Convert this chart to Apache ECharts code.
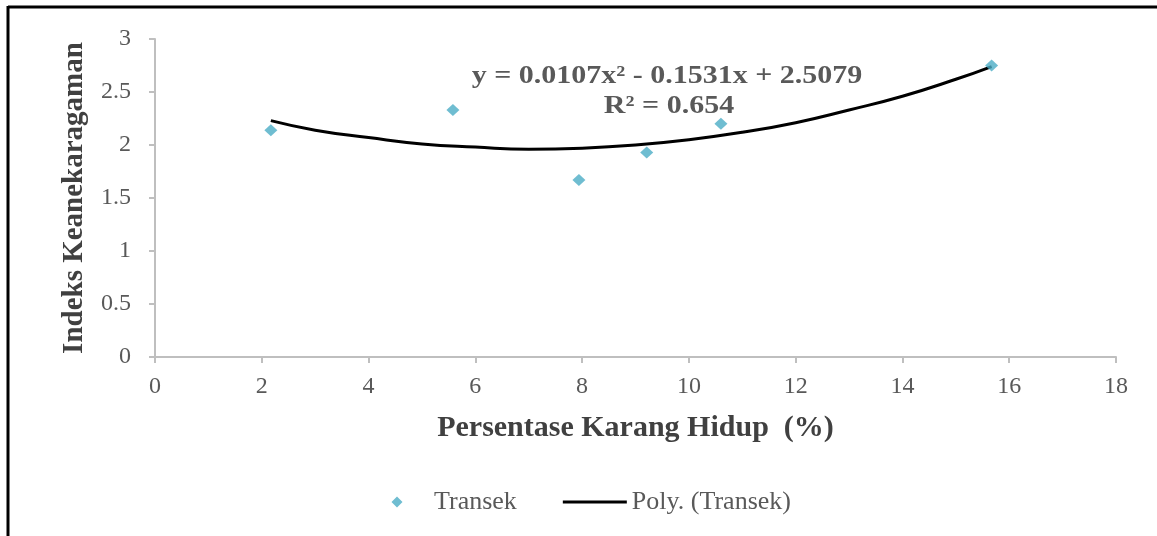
<!DOCTYPE html>
<html>
<head>
<meta charset="utf-8">
<script src="https://cdn.jsdelivr.net/npm/echarts@6/dist/echarts.min.js"></script>
<style>
html,body{margin:0;padding:0;background:#fff;}
#chart{width:1157px;height:536px;}
</style>
</head>
<body>
<div id="chart"></div>
<script>
// Observed data (Transek)
const transekX = [2.17, 5.58, 7.94, 9.21, 10.6, 15.67];
const transekY = [2.14, 2.33, 1.67, 1.93, 2.20, 2.75];
// Trendline
const trendX = [2.17, 3, 4, 5, 6, 7, 8, 9, 10, 11, 12, 13, 14, 15, 15.67];
const trendY = [2.23, 2.14, 2.07, 2.01, 1.98, 1.96, 1.97, 2.00, 2.05, 2.12, 2.21, 2.33, 2.46, 2.62, 2.74];
const xTicks = [0, 2, 4, 6, 8, 10, 12, 14, 16, 18];
const yTicks = [0, 0.5, 1, 1.5, 2, 2.5, 3];
const equationText = 'y = 0.0107x\u00B2 - 0.1531x + 2.5079';
const r2Text = 'R\u00B2 = 0.654';
const xTitle = 'Persentase Karang Hidup  (%)';
const yTitle = 'Indeks Keanekaragaman';
const seriesNames = ['Transek', 'Poly. (Transek)'];

const chart = echarts.init(document.getElementById('chart'));
const serif = '"Liberation Serif", "DejaVu Serif", serif';
const grey = '#595959';
const axisGrey = '#bfbfbf';
const markerColor = '#4bacc6';

chart.setOption({
  animation: false,
  backgroundColor: '#fff',
  textStyle: { fontFamily: serif },
  grid: { left: 155, right: 41, top: 39, bottom: 179, containLabel: false },
  xAxis: {
    type: 'value',
    min: xTicks[0], max: xTicks[xTicks.length - 1], interval: 2,
    axisLine: { show: true, lineStyle: { color: axisGrey, width: 2 } },
    axisTick: { show: true, length: 6, lineStyle: { color: axisGrey, width: 2 } },
    splitLine: { show: false },
    axisLabel: { color: grey, fontSize: 24, fontFamily: serif, margin: 18 },
    name: xTitle, nameLocation: 'middle', nameGap: 56,
    nameTextStyle: { color: '#404040', fontSize: 30, fontWeight: 'bold', fontFamily: serif }
  },
  yAxis: {
    type: 'value',
    min: yTicks[0], max: yTicks[yTicks.length - 1], interval: 0.5,
    axisLine: { show: true, lineStyle: { color: axisGrey, width: 2 } },
    axisTick: { show: true, length: 6, lineStyle: { color: axisGrey, width: 2 } },
    splitLine: { show: false },
    axisLabel: { color: grey, fontSize: 24, fontFamily: serif, margin: 24 },
    name: yTitle, nameLocation: 'middle', nameGap: 66, nameRotate: 90,
    nameTextStyle: { color: '#404040', fontSize: 29, fontWeight: 'bold', fontFamily: serif }
  },
  legend: {
    left: 360, top: 484, itemGap: 46, itemWidth: 64, itemHeight: 12,
    textStyle: { color: grey, fontSize: 26, fontFamily: serif },
    data: [
      { name: seriesNames[0], icon: 'path://M0,0 L0.01,0 L0,0.01 Z M64,12 L63.99,12 L64,11.99 Z M32,0.5 L37.5,6 L32,11.5 L26.5,6 Z', itemStyle: { color: markerColor } },
      { name: seriesNames[1], icon: 'path://M0,0 L64,0 L64,3 L0,3 Z', itemStyle: { color: '#000' } }
    ]
  },
  graphic: [
    { type: 'line', shape: { x1: 8, y1: 7, x2: 1157, y2: 7 }, style: { stroke: '#000', lineWidth: 3 } },
    { type: 'line', shape: { x1: 8, y1: 6, x2: 8, y2: 536 }, style: { stroke: '#000', lineWidth: 3 } },
    { type: 'text', x: 667, y: 77, scaleX: 1.2, style: { x: 0, y: 0, text: equationText, font: 'bold 25px ' + serif, fill: grey, textAlign: 'center', textVerticalAlign: 'middle' } },
    { type: 'text', x: 669, y: 107, scaleX: 1.2, style: { x: 0, y: 0, text: r2Text, font: 'bold 25px ' + serif, fill: grey, textAlign: 'center', textVerticalAlign: 'middle' } }
  ],
  series: [
    {
      name: seriesNames[0], type: 'scatter', symbol: 'diamond', symbolSize: [13, 12],
      itemStyle: { color: markerColor },
      data: transekX.map((x, i) => [x, transekY[i]]), z: 3
    },
    {
      name: seriesNames[1], type: 'line', smooth: true, showSymbol: false, symbol: 'none',
      lineStyle: { color: '#000', width: 3 },
      data: trendX.map((x, i) => [x, trendY[i]]), z: 2
    }
  ]
});
</script>
</body>
</html>
